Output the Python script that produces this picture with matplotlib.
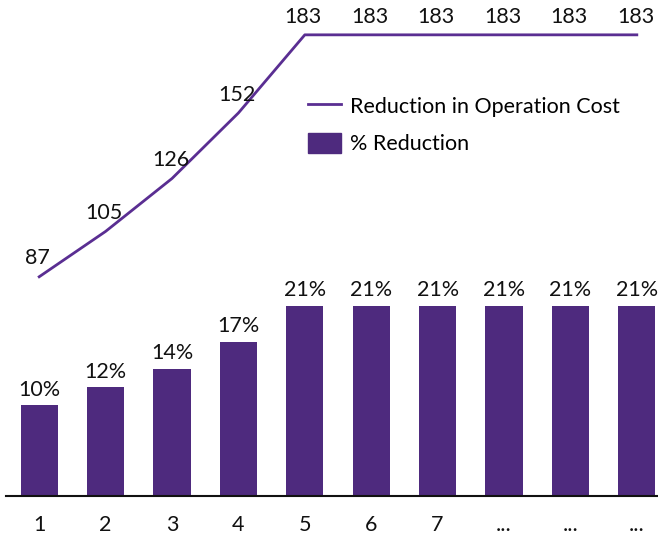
import matplotlib.pyplot as plt
import matplotlib.lines as mlines
import matplotlib.patches as mpatches

plt.rcParams['font.family'] = ['Lato', 'DejaVu Sans']

categorias = ['1', '2', '3', '4', '5', '6', '7', '...', '...', '...']
reducao_pct = [10, 12, 14, 17, 21, 21, 21, 21, 21, 21]
reducao_custo = [87, 105, 126, 152, 183, 183, 183, 183, 183, 183]

cor_barra = '#4E2A7E'
cor_linha = '#5A2E92'
fs = 15.5

fig = plt.figure(figsize=(6.58, 5.39), dpi=100)
# eixo: base em y=496 px, topo em y=10 px
ax = fig.add_axes([6/658, 1 - 496/539, (658 - 6)/658, (496 - 10)/539])
x = list(range(len(categorias)))
ax.bar(x, reducao_pct, width=0.56, color=cor_barra, zorder=2)
ax.set_ylim(0, 486/9.07)
ax.set_xlim(-0.5, 9.5 - 12/66.3)

for xi, v in zip(x, reducao_pct):
    ax.annotate(f'{v}%', (xi, v), xytext=(0, 4), textcoords='offset points',
                ha='center', va='bottom', fontsize=fs, color='#111111')

ax2 = ax.twinx()
ax2.plot(x, reducao_custo, color=cor_linha, linewidth=2, zorder=3)
ax2.set_ylim(0, 486/2.52)
for xi, v in zip(x, reducao_custo):
    ax2.annotate(str(v), (xi, v), xytext=(-1, 6), textcoords='offset points',
                 ha='center', va='bottom', fontsize=fs, color='#111111')

for a in (ax, ax2):
    for s in ['top', 'right', 'left']:
        a.spines[s].set_visible(False)
    a.set_yticks([])
ax2.spines['bottom'].set_visible(False)
ax.spines['bottom'].set_linewidth(1.5)
ax.spines['bottom'].set_color('#111111')

ax.set_xticks(x)
ax.set_xticklabels(categorias, fontsize=fs, color='#111111')
ax.tick_params(axis='x', length=0, pad=14)

h1 = mlines.Line2D([], [], color=cor_linha, linewidth=2)
h2 = mpatches.Patch(color=cor_barra)
fig.legend([h1, h2], ['Reduction in Operation Cost', '% Reduction'],
           loc='upper left', bbox_to_anchor=(308/658, 1 - 95/539),
           frameon=False, fontsize=fs, handlelength=1.55, handleheight=1.1,
           handletextpad=0.42, labelspacing=0.74, borderaxespad=0,
           borderpad=0)

fig.savefig('out.png', dpi=100)
